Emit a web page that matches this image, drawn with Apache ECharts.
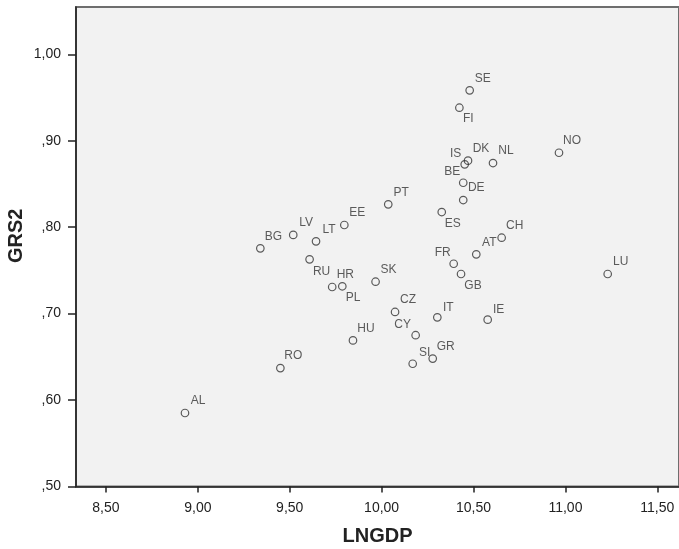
<!DOCTYPE html>
<html>
<head>
<meta charset="utf-8">
<script src="https://cdn.jsdelivr.net/npm/echarts@6/dist/echarts.min.js"></script>
<style>
  html, body { margin: 0; padding: 0; background: #fff; }
  #chart { width: 679px; height: 549px; }
</style>
</head>
<body>
<div id="chart"></div>
<script>
// country codes and values
var countries = ['AL','RO','BG','LV','LT','EE','RU','HR','PL','SK','CZ','HU','CY','SI','GR','IT','IE',
                 'FR','GB','AT','CH','ES','PT','SE','FI','IS','DK','NL','BE','DE','NO','LU'];
var lngdp = [8.930, 9.449, 9.340, 9.519, 9.643, 9.797, 9.608, 9.786, 9.731, 9.967, 10.073, 9.844, 10.185, 10.169, 10.278, 10.303, 10.577,
             10.392, 10.432, 10.515, 10.653, 10.327, 10.036, 10.479, 10.423, 10.452, 10.470, 10.606, 10.444, 10.444, 10.965, 11.230];
var grs2 = [0.585, 0.637, 0.7755, 0.791, 0.7836, 0.8025, 0.7628, 0.7316, 0.7308, 0.7369, 0.7019, 0.669, 0.675, 0.642, 0.648, 0.6957, 0.693,
            0.7577, 0.7458, 0.7686, 0.7878, 0.8175, 0.8264, 0.9583, 0.9382, 0.8727, 0.8769, 0.8742, 0.8514, 0.8314, 0.8861, 0.7458];
var xTicks = [8.5, 9.0, 9.5, 10.0, 10.5, 11.0, 11.5];
var yTicks = [0.5, 0.6, 0.7, 0.8, 0.9, 1.0];

// where each label sits relative to its marker (px)
var labelOffset = {
  FI: [9, 11], IS: [-9, -11], BE: [-11, -11], ES: [11, 12], GB: [12, 12], RU: [12, 12],
  FR: [-11, -11], CY: [-13, -11], HR: [3, -12], PL: [21, 11], SI: [12, -11], IT: [11, -10], IE: [11, -10]
};

function fmt(v) {
  var s = v.toFixed(2).replace('.', ',');
  return s.charAt(0) === '0' ? s.slice(1) : s;
}

var points = countries.map(function (c, i) {
  return {
    value: [lngdp[i], grs2[i]],
    label: { offset: labelOffset[c] || [13, -12] },
    name: c
  };
});

var chart = echarts.init(document.getElementById('chart'));
chart.setOption({
  animation: false,
  textStyle: { fontFamily: 'Liberation Sans, Arial, sans-serif' },
  grid: {
    left: 76, top: 7, right: 0, bottom: 62.5,
    outerBoundsMode: 'none', containLabel: false,
    show: true, backgroundColor: '#f2f2f2', borderColor: '#6e6e6e', borderWidth: 2
  },
  xAxis: {
    type: 'value', min: 8.337, max: 11.618,
    name: 'LNGDP', nameLocation: 'middle', nameGap: 40, nameMoveOverlap: false,
    nameTextStyle: { fontSize: 20, fontWeight: 'bold', color: '#222' },
    axisLine: { show: true, onZero: false, lineStyle: { color: '#222', width: 1.5 } },
    axisTick: { show: true, length: 6, customValues: xTicks, lineStyle: { color: '#222', width: 1.5 } },
    axisLabel: { customValues: xTicks, fontSize: 14, color: '#222', margin: 15, formatter: fmt },
    splitLine: { show: false }
  },
  yAxis: {
    type: 'value', min: 0.5, max: 1.0547,
    name: 'GRS2', nameLocation: 'middle', nameGap: 50, nameMoveOverlap: false,
    nameTextStyle: { fontSize: 20, fontWeight: 'bold', color: '#222', padding: [0, 0, 0, 22] },
    axisLine: { show: true, onZero: false, lineStyle: { color: '#222', width: 1.5 } },
    axisTick: { show: true, length: 8, customValues: yTicks, lineStyle: { color: '#222', width: 1.5 } },
    axisLabel: { customValues: yTicks, fontSize: 14, color: '#222', margin: 15, formatter: fmt },
    splitLine: { show: false }
  },
  series: [{
    type: 'scatter',
    symbol: 'circle',
    symbolSize: 7.5,
    itemStyle: { color: 'rgba(0,0,0,0)', borderColor: '#333', borderWidth: 1.2 },
    label: {
      show: true, position: 'inside', formatter: '{b}',
      fontSize: 12, color: '#333', align: 'center', verticalAlign: 'middle'
    },
    data: points
  }]
});
</script>
</body>
</html>
